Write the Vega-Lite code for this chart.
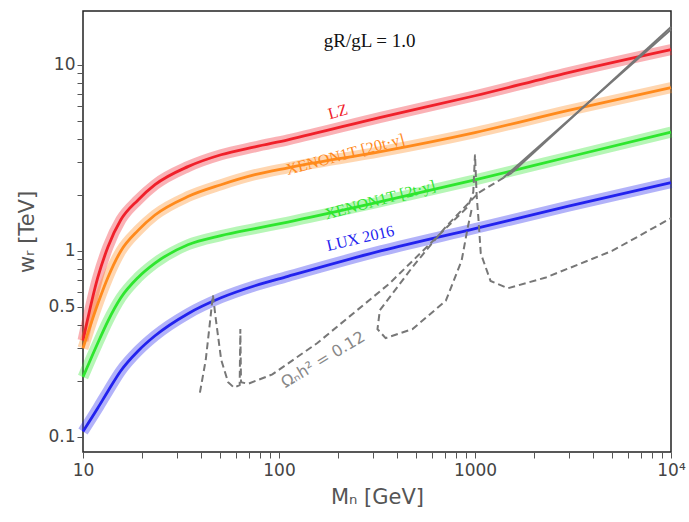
{
  "$schema": "https://vega.github.io/schema/vega-lite/v6.json",
  "width": 588,
  "height": 441,
  "autosize": "none",
  "padding": {"left": 83, "top": 11, "right": 18, "bottom": 70},
  "background": "white",
  "config": {"view": {"stroke": "#222", "strokeWidth": 1.5}},
  "datasets": {
    "limits": [
      {"s": "LZ", "x": 10, "y": 0.33}, {"s": "LZ", "x": 11.9, "y": 0.72}, {"s": "LZ", "x": 13.4, "y": 1.05}, {"s": "LZ", "x": 15.6, "y": 1.47}, {"s": "LZ", "x": 19.1, "y": 1.88}, {"s": "LZ", "x": 23.3, "y": 2.27}, {"s": "LZ", "x": 34.3, "y": 2.84}, {"s": "LZ", "x": 50.6, "y": 3.29}, {"s": "LZ", "x": 75.4, "y": 3.63}, {"s": "LZ", "x": 111, "y": 3.96}, {"s": "LZ", "x": 330, "y": 5.23}, {"s": "LZ", "x": 1000, "y": 6.83}, {"s": "LZ", "x": 3000, "y": 9.1}, {"s": "LZ", "x": 10000, "y": 12.1},
      {"s": "X20", "x": 10, "y": 0.3}, {"s": "X20", "x": 11.9, "y": 0.52}, {"s": "X20", "x": 13.4, "y": 0.72}, {"s": "X20", "x": 15.6, "y": 1.0}, {"s": "X20", "x": 19.1, "y": 1.29}, {"s": "X20", "x": 23.3, "y": 1.56}, {"s": "X20", "x": 34.3, "y": 1.96}, {"s": "X20", "x": 50.6, "y": 2.27}, {"s": "X20", "x": 75.4, "y": 2.57}, {"s": "X20", "x": 111, "y": 2.8}, {"s": "X20", "x": 330, "y": 3.42}, {"s": "X20", "x": 1000, "y": 4.33}, {"s": "X20", "x": 3000, "y": 5.7}, {"s": "X20", "x": 10000, "y": 7.55},
      {"s": "X2", "x": 10, "y": 0.21}, {"s": "X2", "x": 11.9, "y": 0.32}, {"s": "X2", "x": 13.4, "y": 0.42}, {"s": "X2", "x": 15.6, "y": 0.56}, {"s": "X2", "x": 19.1, "y": 0.72}, {"s": "X2", "x": 23.3, "y": 0.86}, {"s": "X2", "x": 34.3, "y": 1.08}, {"s": "X2", "x": 50.6, "y": 1.21}, {"s": "X2", "x": 75.4, "y": 1.32}, {"s": "X2", "x": 111, "y": 1.43}, {"s": "X2", "x": 330, "y": 1.84}, {"s": "X2", "x": 1000, "y": 2.41}, {"s": "X2", "x": 3000, "y": 3.2}, {"s": "X2", "x": 10000, "y": 4.35},
      {"s": "LUX", "x": 10, "y": 0.107}, {"s": "LUX", "x": 11.9, "y": 0.143}, {"s": "LUX", "x": 13.4, "y": 0.176}, {"s": "LUX", "x": 15.6, "y": 0.227}, {"s": "LUX", "x": 19.1, "y": 0.29}, {"s": "LUX", "x": 23.3, "y": 0.35}, {"s": "LUX", "x": 34.3, "y": 0.46}, {"s": "LUX", "x": 50.6, "y": 0.56}, {"s": "LUX", "x": 75.4, "y": 0.65}, {"s": "LUX", "x": 111, "y": 0.73}, {"s": "LUX", "x": 330, "y": 1.0}, {"s": "LUX", "x": 1000, "y": 1.32}, {"s": "LUX", "x": 3000, "y": 1.74}, {"s": "LUX", "x": 10000, "y": 2.33}
    ],
    "relic": [
      {"b": "a", "i": 1, "x": 39.5, "y": 0.173}, {"b": "a", "i": 2, "x": 42.3, "y": 0.26}, {"b": "a", "i": 3, "x": 44.4, "y": 0.41}, {"b": "a", "i": 4, "x": 46, "y": 0.58},
      {"b": "a", "i": 5, "x": 47.6, "y": 0.43}, {"b": "a", "i": 6, "x": 50.7, "y": 0.26}, {"b": "a", "i": 7, "x": 55, "y": 0.197}, {"b": "a", "i": 8, "x": 59, "y": 0.184},
      {"b": "a", "i": 9, "x": 63, "y": 0.19}, {"b": "a", "i": 10, "x": 63.5, "y": 0.38}, {"b": "a", "i": 11, "x": 64, "y": 0.197}, {"b": "a", "i": 12, "x": 69.5, "y": 0.193},
      {"b": "a", "i": 13, "x": 92.5, "y": 0.217}, {"b": "a", "i": 14, "x": 157, "y": 0.32}, {"b": "a", "i": 15, "x": 367, "y": 0.67}, {"b": "a", "i": 16, "x": 920, "y": 1.73},
      {"b": "a", "i": 17, "x": 980, "y": 2.07}, {"b": "a", "i": 18, "x": 1000, "y": 3.3}, {"b": "a", "i": 19, "x": 1020, "y": 1.97}, {"b": "a", "i": 20, "x": 1040, "y": 1.52},
      {"b": "a", "i": 21, "x": 1070, "y": 0.97}, {"b": "a", "i": 22, "x": 1200, "y": 0.69}, {"b": "a", "i": 23, "x": 1470, "y": 0.63}, {"b": "a", "i": 24, "x": 2300, "y": 0.72},
      {"b": "a", "i": 25, "x": 5000, "y": 1.0}, {"b": "a", "i": 26, "x": 10000, "y": 1.5},
      {"b": "c", "i": 1, "x": 960, "y": 1.66}, {"b": "c", "i": 2, "x": 920, "y": 1.35}, {"b": "c", "i": 3, "x": 855, "y": 0.89}, {"b": "c", "i": 4, "x": 710, "y": 0.54},
      {"b": "c", "i": 5, "x": 480, "y": 0.38}, {"b": "c", "i": 6, "x": 350, "y": 0.34}, {"b": "c", "i": 7, "x": 318, "y": 0.38}, {"b": "c", "i": 8, "x": 327, "y": 0.48},
      {"b": "c", "i": 9, "x": 480, "y": 0.82}, {"b": "c", "i": 10, "x": 710, "y": 1.35}, {"b": "c", "i": 11, "x": 1040, "y": 2.05}, {"b": "c", "i": 12, "x": 1540, "y": 2.63}
    ],
    "solid": [
      {"b": "s1", "x": 1540, "y": 2.63}, {"b": "s1", "x": 10000, "y": 16},
      {"b": "s2", "x": 1400, "y": 2.48}, {"b": "s2", "x": 10000, "y": 15.5}
    ],
    "labels": [
      {"t": "LZ", "x": 200, "y": 5.6, "c": "LZ", "a": -15},
      {"t": "XENON1T [20t·y]", "x": 218, "y": 3.3, "c": "X20", "a": -15},
      {"t": "XENON1T [2t·y]", "x": 328, "y": 1.88, "c": "X2", "a": -15},
      {"t": "LUX 2016", "x": 260, "y": 1.17, "c": "LUX", "a": -13}
    ]
  },
  "layer": [
    {
      "data": {"name": "limits"},
      "mark": {"type": "line", "strokeWidth": 11, "opacity": 0.35, "interpolate": "monotone"},
      "encoding": {
        "x": {"field": "x", "type": "quantitative", "scale": {"type": "log", "domain": [10, 10000], "nice": false},
          "axis": {"values": [10, 100, 1000, 10000, 20, 30, 40, 50, 60, 70, 80, 90, 200, 300, 400, 500, 600, 700, 800, 900, 2000, 3000, 4000, 5000, 6000, 7000, 8000, 9000],
            "labelExpr": "datum.value == 10000 ? '10⁴' : (datum.value == 10 || datum.value == 100 || datum.value == 1000 ? datum.label : '')",
            "grid": false, "title": "Mₙ [GeV]", "titleFontSize": 21, "titleFontWeight": "normal", "titleColor": "#555", "titleFont": "DejaVu Sans", "titlePadding": 8,
            "labelFontSize": 17, "labelColor": "#444", "labelFont": "DejaVu Sans", "tickColor": "#555", "tickSize": 6, "domain": false, "labelFlush": false, "labelPadding": 4, "format": "d"}},
        "y": {"field": "y", "type": "quantitative", "scale": {"type": "log", "domain": [0.083, 19.5], "nice": false},
          "axis": {"values": [0.1, 0.5, 1, 10, 0.2, 0.3, 0.4, 0.6, 0.7, 0.8, 0.9, 2, 3, 4, 5, 6, 7, 8, 9],
            "labelExpr": "datum.value == 0.1 ? '0.1' : datum.value == 0.5 ? '0.5' : datum.value == 1 ? '1' : datum.value == 10 ? '10' : ''",
            "grid": false, "title": "wᵣ [TeV]", "titleFontSize": 21, "titleFontWeight": "normal", "titleColor": "#555", "titleFont": "DejaVu Sans", "titlePadding": 10,
            "labelFontSize": 17, "labelColor": "#444", "labelFont": "DejaVu Sans", "tickColor": "#555", "tickSize": 6, "domain": false, "labelFlush": false}},
        "color": {"field": "s", "type": "nominal", "scale": {"domain": ["LZ", "X20", "X2", "LUX"], "range": ["#f0202a", "#ff8a1c", "#2ee62e", "#2222ee"]}, "legend": null}
      }
    },
    {
      "data": {"name": "limits"},
      "mark": {"type": "line", "strokeWidth": 2.8, "interpolate": "monotone"},
      "encoding": {
        "x": {"field": "x", "type": "quantitative"},
        "y": {"field": "y", "type": "quantitative"},
        "color": {"field": "s", "type": "nominal", "scale": {"domain": ["LZ", "X20", "X2", "LUX"], "range": ["#e8000c", "#ff7700", "#00e000", "#0000dd"]}, "legend": null}
      }
    },
    {
      "data": {"name": "relic"},
      "mark": {"type": "line", "strokeWidth": 2, "strokeDash": [7, 4], "color": "#777", "interpolate": "linear"},
      "encoding": {
        "x": {"field": "x", "type": "quantitative"},
        "y": {"field": "y", "type": "quantitative"},
        "detail": {"field": "b"},
        "order": {"field": "i", "type": "quantitative"}
      }
    },
    {
      "data": {"name": "solid"},
      "mark": {"type": "line", "strokeWidth": 2, "color": "#777"},
      "encoding": {
        "x": {"field": "x", "type": "quantitative"},
        "y": {"field": "y", "type": "quantitative"},
        "detail": {"field": "b"}
      }
    },
    {
      "data": {"name": "labels"},
      "mark": {"type": "text", "font": "Liberation Serif", "fontSize": 16},
      "encoding": {
        "x": {"field": "x", "type": "quantitative"},
        "y": {"field": "y", "type": "quantitative"},
        "text": {"field": "t"},
        "angle": {"field": "a", "type": "quantitative", "scale": null},
        "color": {"field": "c", "type": "nominal", "scale": {"domain": ["LZ", "X20", "X2", "LUX"], "range": ["#e8000c", "#ff7700", "#00e000", "#0000dd"]}, "legend": null}
      }
    },
    {
      "data": {"values": [{"t": "Ωₙh² = 0.12", "x": 168, "y": 0.26}]},
      "mark": {"type": "text", "font": "DejaVu Sans", "fontSize": 16, "color": "#888", "angle": -31},
      "encoding": {"x": {"field": "x", "type": "quantitative"}, "y": {"field": "y", "type": "quantitative"}, "text": {"field": "t"}}
    },
    {
      "data": {"values": [{"t": "gR/gL = 1.0", "x": 290, "y": 13.4}]},
      "mark": {"type": "text", "font": "Liberation Serif", "fontSize": 19, "color": "#111"},
      "encoding": {"x": {"field": "x", "type": "quantitative"}, "y": {"field": "y", "type": "quantitative"}, "text": {"field": "t"}}
    }
  ]
}
